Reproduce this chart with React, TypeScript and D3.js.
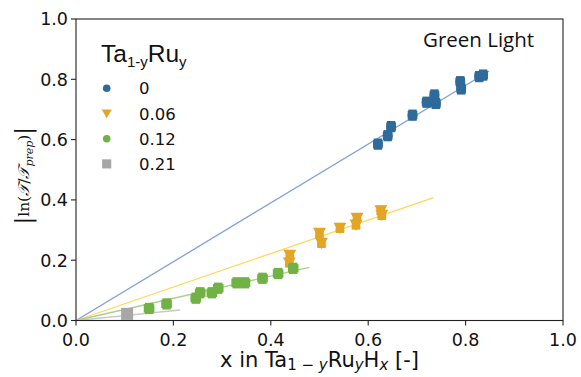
import React from "react";
import * as d3 from "d3";

// Measured hydrogen uptake vs. optical response, grouped by Ru content y
const seriesLabels = ["0", "0.06", "0.12", "0.21"];
const seriesColors = ["#2e6a9a", "#e3a624", "#70b244", "#a6a6a6"];
const fitColors = ["#7f9fdc", "#ffd75e", "#a8d08c", "#c9c9c9"];
const markerShapes = ["circle", "triangle", "circle", "square"];

const xRu0 = [0.620, 0.640, 0.647, 0.691, 0.720, 0.736, 0.739, 0.789, 0.791, 0.828, 0.836];
const yRu0 = [0.585, 0.613, 0.643, 0.681, 0.724, 0.748, 0.720, 0.792, 0.768, 0.809, 0.814];

const xRu006 = [0.438, 0.439, 0.500, 0.504, 0.542, 0.577, 0.575, 0.626, 0.628];
const yRu006 = [0.192, 0.217, 0.290, 0.257, 0.307, 0.340, 0.318, 0.365, 0.350];

const xRu012 = [0.150, 0.186, 0.246, 0.255, 0.279, 0.292, 0.330, 0.347, 0.383, 0.415, 0.446];
const yRu012 = [0.040, 0.055, 0.074, 0.092, 0.092, 0.107, 0.125, 0.125, 0.140, 0.156, 0.173];

const xRu021 = [0.105];
const yRu021 = [0.022];

// Error bar half-widths per series
const xErrs = [0.007, 0.006, 0.008, 0.0];
const yErrs = [0.014, 0.012, 0.014, 0.0];

// Linear fits through the origin: slope and x extent
const fitSlopes = [0.975, 0.555, 0.368, 0.163];
const fitEnds = [0.848, 0.734, 0.479, 0.214];

const xTicks = [0, 0.2, 0.4, 0.6, 0.8, 1.0];
const yTicks = [0, 0.2, 0.4, 0.6, 0.8, 1.0];

const W = 581;
const H = 377;
const M = { left: 76, right: 563, top: 19, bottom: 320.5 };

const allX = [xRu0, xRu006, xRu012, xRu021];
const allY = [yRu0, yRu006, yRu012, yRu021];

function Marker({ shape, cx, cy, color, r }: { shape: string; cx: number; cy: number; color: string; r: number }) {
  if (shape === "circle") return <circle cx={cx} cy={cy} r={r} fill={color} />;
  if (shape === "square")
    return <rect x={cx - r * 1.2} y={cy - r * 1.2} width={r * 2.4} height={r * 2.4} fill={color} />;
  const s = r * 1.3;
  return (
    <path
      d={`M${cx - s},${cy - s * 0.8} L${cx + s},${cy - s * 0.8} L${cx},${cy + s * 0.95} Z`}
      fill={color}
    />
  );
}

export default function App() {
  const x = d3.scaleLinear().domain([0, 1]).range([M.left, M.right]);
  const y = d3.scaleLinear().domain([0, 1]).range([M.bottom, M.top]);
  const fmt = d3.format(".1f");
  const cap = 4.2;

  return (
    <svg
      width={W}
      height={H}
      style={{ position: "absolute", left: 0, top: 0, background: "#fff" }}
      fontFamily="DejaVu Sans"
    >
      {/* fit lines */}
      {fitSlopes.map((k, i) => (
        <line
          key={"fit" + i}
          x1={x(0)}
          y1={y(0)}
          x2={x(fitEnds[i])}
          y2={y(k * fitEnds[i])}
          stroke={fitColors[i]}
          strokeWidth={1.3}
        />
      ))}

      {/* data with error bars */}
      {allX.map((xs, si) =>
        xs.map((xv, j) => {
          const yv = allY[si][j];
          const cx = x(xv);
          const cy = y(yv);
          const ex = x(xv + xErrs[si]) - cx;
          const ey = cy - y(yv + yErrs[si]);
          const c = seriesColors[si];
          return (
            <g key={`p${si}-${j}`}>
              {ey > 0 && (
                <g stroke={c} strokeWidth={2.8}>
                  <line x1={cx} x2={cx} y1={cy - ey} y2={cy + ey} />
                  <line x1={cx - cap} x2={cx + cap} y1={cy - ey} y2={cy - ey} />
                  <line x1={cx - cap} x2={cx + cap} y1={cy + ey} y2={cy + ey} />
                  <line x1={cx - ex} x2={cx + ex} y1={cy} y2={cy} />
                  <line x1={cx - ex} x2={cx - ex} y1={cy - cap} y2={cy + cap} />
                  <line x1={cx + ex} x2={cx + ex} y1={cy - cap} y2={cy + cap} />
                </g>
              )}
              <Marker shape={markerShapes[si]} cx={cx} cy={cy} color={c} r={5} />
            </g>
          );
        })
      )}

      {/* frame */}
      <rect
        x={M.left}
        y={M.top}
        width={M.right - M.left}
        height={M.bottom - M.top}
        fill="none"
        stroke="#222"
        strokeWidth={1.1}
      />

      {/* x axis */}
      {xTicks.map((t) => (
        <g key={"xt" + t}>
          <line x1={x(t)} x2={x(t)} y1={M.bottom} y2={M.bottom + 5} stroke="#222" strokeWidth={1.1} />
          <text x={x(t)} y={M.bottom + 25} textAnchor="middle" fontSize={17.5} fill="#111">
            {fmt(t)}
          </text>
        </g>
      ))}
      {/* y axis */}
      {yTicks.map((t) => (
        <g key={"yt" + t}>
          <line x1={M.left - 5} x2={M.left} y1={y(t)} y2={y(t)} stroke="#222" strokeWidth={1.1} />
          <text x={M.left - 8} y={y(t) + 6.3} textAnchor="end" fontSize={17.5} fill="#111">
            {fmt(t)}
          </text>
        </g>
      ))}

      {/* axis titles */}
      <text x={(M.left + M.right) / 2} y={367} textAnchor="middle" fontSize={21} fill="#111">
        x in Ta
        <tspan fontSize={15} dy={3}>1 − </tspan>
        <tspan fontSize={15} fontStyle="italic">y</tspan>
        <tspan dy={-3}>Ru</tspan>
        <tspan fontSize={15} fontStyle="italic" dy={3}>y</tspan>
        <tspan dy={-3}>H</tspan>
        <tspan fontSize={15} fontStyle="italic" dy={3}>x</tspan>
        <tspan dy={-3}> [-]</tspan>
      </text>

      <g transform={`translate(29, ${(M.top + M.bottom) / 2 + 6}) rotate(-90)`}>
        <text textAnchor="middle" fontFamily="DejaVu Serif" fontSize={15.5} fill="#111">
          <tspan fontSize={23} dy={2}>|</tspan>
          <tspan dy={-2}>ln(</tspan>
          <tspan fontStyle="italic">𝒯</tspan>
          <tspan>/</tspan>
          <tspan fontStyle="italic">𝒯</tspan>
          <tspan fontSize={11} fontStyle="italic" dy={4}>prep</tspan>
          <tspan dy={-4}>)</tspan>
          <tspan fontSize={23} dy={2}>|</tspan>
        </text>
      </g>

      {/* legend */}
      <text x={101} y={62} fontFamily="Liberation Sans" fontSize={24.5} fill="#111">
        Ta
        <tspan fontSize={15} dy={5}>1-y</tspan>
        <tspan dy={-5}>Ru</tspan>
        <tspan fontSize={15} dy={5}>y</tspan>
      </text>
      {seriesLabels.map((lab, i) => {
        const ly = 88.3 + i * 25.2;
        return (
          <g key={"lg" + i}>
            <Marker shape={markerShapes[i]} cx={106.7} cy={ly} color={seriesColors[i]} r={3.8} />
            <text x={139} y={ly + 6} fontSize={16.5} fill="#111">
              {lab}
            </text>
          </g>
        );
      })}

      <text x={423} y={46.7} fontFamily="Open Sans" fontSize={20.5} fill="#111">
        Green Light
      </text>
    </svg>
  );
}
